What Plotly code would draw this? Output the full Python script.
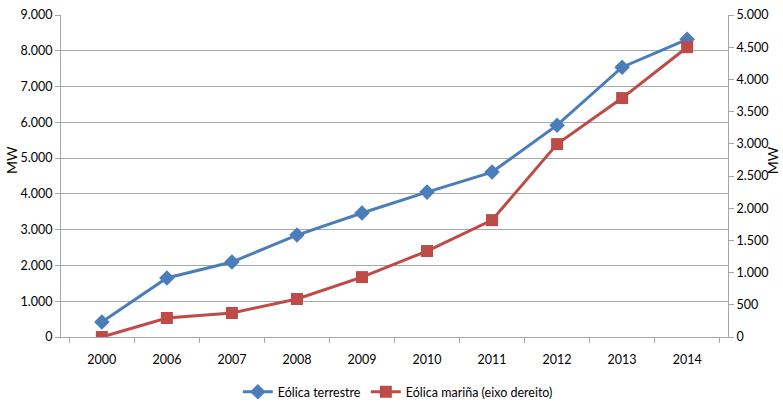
import plotly.graph_objects as go

years = ["2000", "2006", "2007", "2008", "2009", "2010", "2011", "2012", "2013", "2014"]
terrestre = [420, 1650, 2095, 2850, 3465, 4050, 4610, 5920, 7540, 8320]
marina = [0, 295, 373, 590, 930, 1335, 1815, 2995, 3710, 4500]

left_ticks = [0, 1000, 2000, 3000, 4000, 5000, 6000, 7000, 8000, 9000]
right_ticks = [0, 500, 1000, 1500, 2000, 2500, 3000, 3500, 4000, 4500, 5000]

blue = "#4a7ebb"
red = "#be4b48"
grid = "#a6a6a6"
font_family = "Lato, sans-serif"

fig = go.Figure()
fig.add_trace(go.Scatter(
    x=years, y=terrestre, name="Eólica terrestre", mode="lines+markers",
    line=dict(color=blue, width=3),
    marker=dict(symbol="diamond", size=12, color=blue),
))
fig.add_trace(go.Scatter(
    x=years, y=marina, name="Eólica mariña (eixo dereito)", mode="lines+markers",
    line=dict(color=red, width=3),
    marker=dict(symbol="square", size=12, color=red),
    yaxis="y2",
))

axis_common = dict(
    showline=True, linecolor=grid, linewidth=1,
    ticks="outside", ticklen=5, tickcolor=grid,
    tickfont=dict(size=12.5), automargin=False,
)

fig.update_layout(
    width=783, height=403,
    margin=dict(l=61, r=55, t=15, b=66, autoexpand=False),
    paper_bgcolor="white", plot_bgcolor="white",
    separators=",.",
    font=dict(family=font_family, size=13, color="#000000"),
    showlegend=True,
    legend=dict(orientation="h", x=0.505, xanchor="center", y=-0.171, yanchor="middle",
                font=dict(size=12.5), itemwidth=30, tracegroupgap=0),
    xaxis=dict(type="category", showgrid=False, tickson="boundaries",
               ticklabelstandoff=11, **axis_common),
    yaxis=dict(range=[0, 9000], tickvals=left_ticks, tickformat=",d",
               showgrid=True, gridcolor=grid, gridwidth=1, zeroline=False,
               **axis_common),
    yaxis2=dict(range=[0, 5000], tickvals=right_ticks, tickformat=",d",
                overlaying="y", side="right", showgrid=False, zeroline=False,
                **axis_common),
)

# "MW" titles beside both value axes (positions in plot-area fractions)
for xpos in (-0.0735, 1.068):
    fig.add_annotation(
        text="MW", x=xpos, y=0.55, xref="paper", yref="paper",
        xanchor="center", yanchor="middle", showarrow=False,
        textangle=-90, font=dict(size=14, color="#000000"),
    )

fig.write_html("out.html")
